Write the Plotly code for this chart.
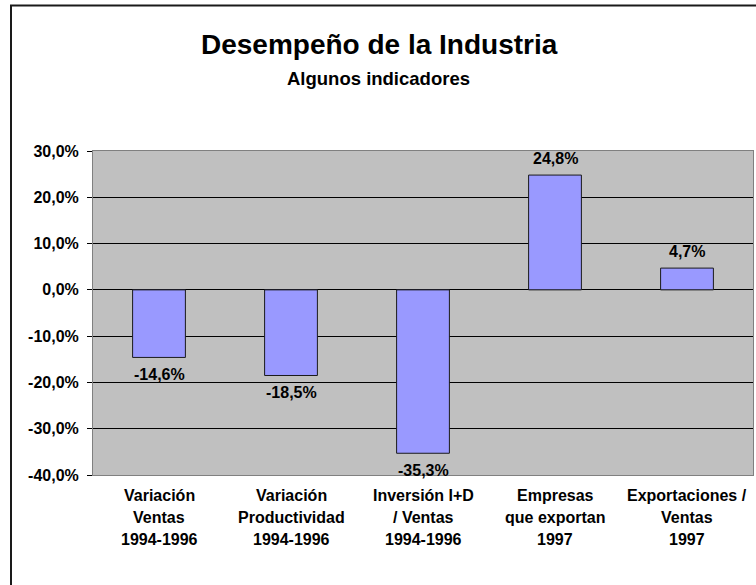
import plotly.graph_objects as go

# ---- data ----
category_lines = [
    ["Variación", "Ventas", "1994-1996"],
    ["Variación", "Productividad", "1994-1996"],
    ["Inversión I+D", "/ Ventas", "1994-1996"],
    ["Empresas", "que exportan", "1997"],
    ["Exportaciones /", "Ventas", "1997"],
]
values = [-14.6, -18.5, -35.3, 24.8, 4.7]
tick_vals = [-40, -30, -20, -10, 0, 10, 20, 30]
tick_text = ["-40,0%", "-30,0%", "-20,0%", "-10,0%", "0,0%", "10,0%", "20,0%", "30,0%"]
title_text = "Desempeño de la Industria"
subtitle_text = "Algunos indicadores"

categories = [" ".join(l) for l in category_lines]
FONT = "Liberation Sans, Arial, sans-serif"

fig = go.Figure()
fig.add_trace(go.Bar(
    x=categories, y=values,
    marker=dict(color="#9999FF", line=dict(color="#1a1a1a", width=1)),
    hoverinfo="skip",
))

annotations = []
# data labels
for c, v in zip(categories, values):
    txt = f"{v:.1f}".replace(".", ",") + "%"
    annotations.append(dict(
        x=c, y=v, xref="x", yref="y", text=f"<b>{txt}</b>", showarrow=False,
        yanchor="middle", yshift=17 if v >= 0 else -17,
        font=dict(family=FONT, size=16, color="black"),
    ))
# category labels, line by line
shifts = [-20, -42.5, -64.5]
for c, lines in zip(categories, category_lines):
    for s, line in zip(shifts, lines):
        annotations.append(dict(
            x=c, y=0, xref="x", yref="paper", text=f"<b>{line}</b>", showarrow=False,
            yanchor="middle", yshift=s,
            font=dict(family=FONT, size=16, color="black"),
        ))
# titles
annotations.append(dict(
    x=(379 - 93) / 660, y=(475 - 44.5) / 324, xref="paper", yref="paper",
    text=f"<b>{title_text}</b>", showarrow=False, xanchor="center", yanchor="middle",
    font=dict(family=FONT, size=28, color="black"),
))
annotations.append(dict(
    x=(378 - 93) / 660, y=(475 - 78) / 324, xref="paper", yref="paper",
    text=f"<b>{subtitle_text}</b>", showarrow=False, xanchor="center", yanchor="middle",
    font=dict(family=FONT, size=18.5, color="black"),
))

fig.update_layout(
    width=756, height=585,
    margin=dict(l=93, r=3, t=151, b=110, autoexpand=False),
    paper_bgcolor="white", plot_bgcolor="#C0C0C0",
    showlegend=False, bargap=0.6,
    annotations=annotations,
    font=dict(family=FONT, color="black"),
    shapes=[dict(
        type="rect", xref="paper", yref="paper",
        x0=(11 - 93) / 660, x1=(775 - 93) / 660,
        y0=(475 - 600) / 324, y1=(475 - 5.5) / 324,
        line=dict(color="#1a1a1a", width=2), fillcolor="rgba(0,0,0,0)", layer="below",
    )],
)
fig.update_xaxes(
    showticklabels=False, ticks="", showgrid=False, automargin=False,
    showline=True, mirror=True, linecolor="#808080", linewidth=1,
)
fig.update_yaxes(
    range=[-40, 30], tickvals=tick_vals, ticktext=tick_text, automargin=False,
    ticks="outside", ticklen=5, tickcolor="black", tickwidth=1,
    ticklabelstandoff=5,
    tickfont=dict(family=FONT, size=16, color="black", weight="bold"),
    showgrid=True, gridcolor="black", gridwidth=1,
    zeroline=True, zerolinecolor="black", zerolinewidth=1,
    showline=True, mirror=True, linecolor="#808080", linewidth=1,
)

fig.write_html(
    "out.html",
    config={"displayModeBar": False},
    post_script="document.body.style.margin='0';document.body.style.overflow='hidden';",
)
